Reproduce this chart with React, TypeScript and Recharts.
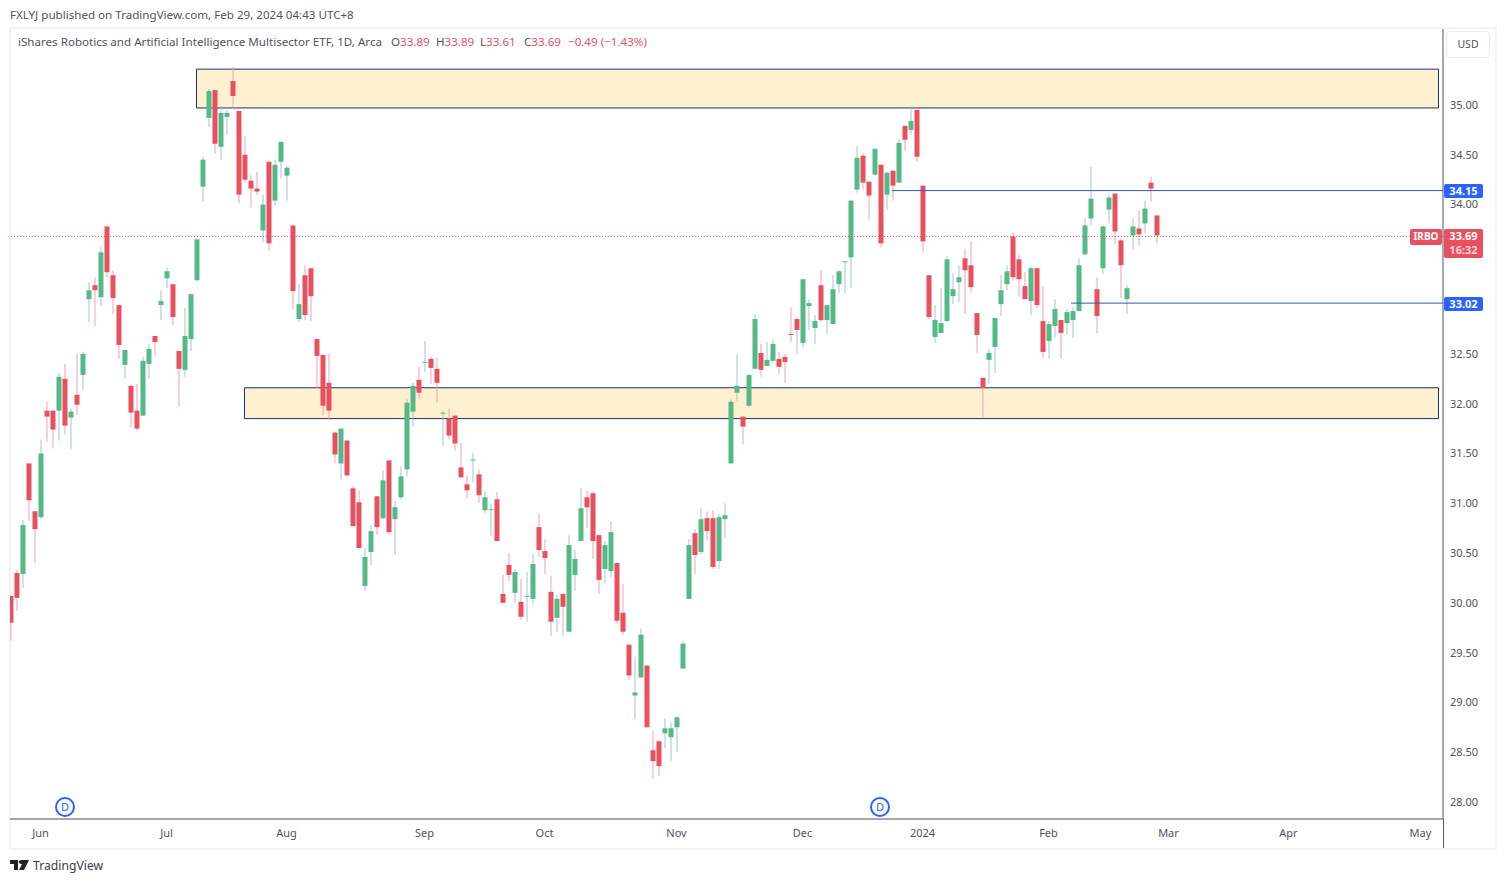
import { Bar, ComposedChart, ReferenceArea, ReferenceLine, XAxis, YAxis } from "recharts";

const opens = [
  30.07, 30.30, 30.29, 31.40, 30.92, 30.86, 31.93, 31.93, 31.93, 32.25,
  31.86, 32.09, 32.29, 33.05, 33.19, 33.07, 33.78, 33.29, 32.99, 32.39,
  32.18, 31.93, 31.88, 32.40, 32.68, 32.99, 33.26, 33.20, 32.53, 32.34,
  32.65, 33.24, 34.18, 34.87, 35.15, 34.58, 34.88, 35.24, 34.94, 34.50,
  34.24, 34.16, 33.74, 34.43, 34.04, 34.43, 34.29, 33.79, 32.85, 33.29,
  33.36, 32.65, 32.49, 32.21, 31.71, 31.40, 31.63, 31.15, 31.01, 30.17,
  30.51, 31.07, 30.85, 31.43, 30.84, 31.06, 31.34, 31.92, 32.24, 32.41,
  32.45, 32.35, 31.90, 31.85, 31.88, 31.36, 31.19, 31.43, 31.29, 30.93,
  30.93, 31.04, 30.09, 30.38, 30.10, 30.01, 30.06, 30.04, 30.76, 30.52,
  30.11, 29.85, 30.09, 29.71, 30.28, 30.62, 31.06, 31.10, 30.68, 30.34,
  30.32, 30.40, 29.90, 29.58, 29.07, 29.25, 29.37, 28.52, 28.61, 28.69,
  28.65, 28.75, 29.34, 30.04, 30.70, 30.51, 30.85, 30.85, 30.42, 30.84,
  31.40, 32.11, 31.87, 31.98, 32.35, 32.51, 32.38, 32.43, 32.45, 32.47,
  32.70, 32.85, 32.61, 32.98, 32.76, 33.19, 32.84, 32.80, 33.20, 33.42,
  33.47, 34.15, 34.49, 34.23, 34.30, 34.40, 34.10, 34.34, 34.22, 34.79,
  34.75, 34.95, 34.19, 33.29, 32.67, 32.71, 32.83, 33.08, 33.22, 33.46,
  33.39, 32.91, 32.26, 32.44, 32.57, 33.00, 33.20, 33.68, 33.45, 33.18,
  33.03, 33.36, 32.83, 32.63, 32.78, 32.84, 32.81, 32.84, 32.93, 33.50,
  33.86, 33.15, 33.36, 33.95, 34.11, 33.64, 33.05, 33.69, 33.76, 33.81,
  34.22, 33.89,
];

const highs = [
  30.07, 30.33, 30.83, 31.40, 30.92, 31.64, 32.02, 31.93, 32.31, 32.40,
  31.95, 32.50, 32.52, 33.22, 33.27, 33.58, 33.78, 33.34, 32.99, 32.54,
  32.18, 32.20, 32.47, 32.60, 32.68, 33.14, 33.37, 33.20, 32.53, 32.96,
  33.10, 33.65, 34.48, 35.16, 35.15, 34.99, 34.95, 35.38, 34.94, 34.69,
  34.30, 34.33, 34.10, 34.43, 34.45, 34.63, 34.39, 33.79, 33.20, 33.39,
  33.36, 32.65, 32.49, 32.50, 31.72, 31.75, 31.63, 31.17, 31.13, 30.55,
  30.78, 31.07, 31.33, 31.43, 31.02, 31.37, 32.05, 32.21, 32.37, 32.63,
  32.47, 32.46, 31.93, 31.95, 31.88, 31.61, 31.28, 31.51, 31.34, 31.12,
  30.99, 31.11, 30.28, 30.50, 30.34, 30.24, 30.31, 30.49, 30.90, 30.64,
  30.27, 30.08, 30.09, 30.68, 30.53, 31.15, 31.13, 31.12, 30.68, 30.62,
  30.82, 30.40, 30.19, 29.58, 29.46, 29.74, 29.37, 28.72, 28.62, 28.84,
  28.80, 28.86, 29.62, 30.64, 30.74, 30.95, 30.92, 30.93, 30.89, 31.00,
  32.05, 32.50, 31.87, 32.29, 32.90, 32.60, 32.62, 32.64, 32.52, 32.50,
  32.97, 32.87, 33.25, 33.05, 32.89, 33.34, 32.99, 33.29, 33.34, 33.43,
  34.04, 34.59, 34.52, 34.23, 34.56, 34.40, 34.32, 34.34, 34.66, 34.79,
  34.97, 34.95, 34.19, 33.29, 32.99, 33.16, 33.48, 33.31, 33.39, 33.55,
  33.63, 32.91, 32.26, 32.55, 32.86, 33.29, 33.39, 33.72, 33.50, 33.32,
  33.38, 33.36, 33.18, 32.83, 33.05, 32.84, 32.95, 32.97, 33.46, 33.86,
  34.38, 33.27, 33.79, 34.10, 34.11, 33.66, 33.19, 33.86, 33.94, 34.04,
  34.28, 33.89,
];

const lows = [
  29.62, 29.92, 30.15, 30.82, 30.40, 30.84, 31.62, 31.55, 31.63, 31.69,
  31.54, 31.89, 32.14, 32.82, 32.78, 32.98, 33.27, 32.90, 32.45, 32.25,
  31.76, 31.73, 31.88, 32.25, 32.48, 32.84, 33.16, 32.79, 31.97, 32.27,
  32.53, 33.23, 34.03, 34.78, 34.51, 34.45, 34.70, 34.97, 34.01, 34.22,
  33.97, 34.10, 33.62, 33.53, 33.99, 34.26, 34.04, 32.95, 32.82, 32.84,
  32.83, 32.15, 31.89, 31.84, 31.40, 31.24, 31.27, 30.77, 30.55, 30.12,
  30.38, 30.68, 30.84, 30.69, 30.48, 31.04, 31.27, 31.77, 32.05, 32.32,
  32.20, 32.01, 31.57, 31.64, 31.53, 31.26, 31.05, 31.21, 31.00, 30.90,
  30.67, 30.62, 30.00, 30.22, 30.00, 29.83, 29.81, 29.99, 30.46, 30.29,
  29.67, 29.71, 29.67, 29.71, 30.12, 30.62, 30.75, 30.44, 30.09, 30.20,
  30.26, 29.79, 29.68, 29.22, 28.83, 29.25, 28.75, 28.23, 28.26, 28.54,
  28.41, 28.50, 29.34, 30.04, 30.29, 30.49, 30.63, 30.34, 30.34, 30.65,
  31.40, 32.03, 31.59, 31.96, 32.35, 32.27, 32.38, 32.41, 32.30, 32.21,
  32.62, 32.50, 32.56, 32.74, 32.60, 32.82, 32.70, 32.80, 33.11, 33.11,
  33.16, 34.12, 34.15, 33.85, 34.29, 33.57, 33.95, 34.04, 34.22, 34.54,
  34.70, 34.43, 33.52, 32.85, 32.61, 32.71, 32.82, 33.00, 33.02, 32.90,
  33.12, 32.51, 31.86, 32.20, 32.31, 32.88, 33.14, 33.23, 33.08, 33.05,
  32.89, 32.96, 32.46, 32.45, 32.66, 32.45, 32.69, 32.66, 32.93, 33.49,
  33.79, 32.71, 33.30, 33.81, 33.60, 33.06, 32.90, 33.55, 33.59, 33.71,
  34.03, 33.61,
];

const closes = [
  29.80, 30.05, 30.78, 31.03, 30.74, 31.50, 31.87, 31.74, 32.27, 31.78,
  31.92, 31.99, 32.50, 33.14, 33.14, 33.52, 33.32, 33.06, 32.59, 32.54,
  31.91, 31.75, 32.43, 32.55, 32.62, 33.03, 33.33, 32.87, 32.35, 32.68,
  33.10, 33.65, 34.45, 35.14, 34.61, 34.92, 34.92, 35.09, 34.10, 34.25,
  34.16, 34.13, 34.00, 33.61, 34.40, 34.63, 34.37, 33.13, 33.00, 32.89,
  33.08, 32.48, 31.98, 31.93, 31.49, 31.75, 31.28, 30.77, 30.55, 30.46,
  30.72, 30.76, 31.23, 30.71, 30.96, 31.27, 32.01, 32.18, 32.11, 32.42,
  32.36, 32.21, 31.91, 31.68, 31.60, 31.26, 31.13, 31.44, 31.08, 31.06,
  30.94, 30.62, 30.00, 30.28, 30.31, 29.86, 30.07, 30.39, 30.53, 30.45,
  29.81, 30.04, 29.96, 30.58, 30.44, 30.95, 30.96, 30.62, 30.23, 30.58,
  30.71, 29.82, 29.71, 29.27, 29.10, 29.68, 28.75, 28.41, 28.36, 28.74,
  28.74, 28.85, 29.59, 30.58, 30.48, 30.84, 30.72, 30.36, 30.86, 30.88,
  32.02, 32.18, 31.77, 32.29, 32.85, 32.34, 32.44, 32.60, 32.37, 32.42,
  32.69, 32.74, 33.25, 33.01, 32.83, 32.84, 32.99, 33.15, 33.33, 33.43,
  34.04, 34.47, 34.22, 34.09, 34.56, 33.61, 34.32, 34.19, 34.62, 34.65,
  34.84, 34.48, 33.63, 32.87, 32.84, 32.81, 33.45, 33.15, 33.27, 33.34,
  33.17, 32.69, 32.16, 32.51, 32.86, 33.14, 33.33, 33.27, 33.25, 33.05,
  33.36, 32.99, 32.52, 32.80, 32.95, 32.71, 32.92, 32.93, 33.39, 33.79,
  34.06, 32.88, 33.78, 34.07, 33.73, 33.39, 33.16, 33.78, 33.70, 33.96,
  34.16, 33.69,
];

const monthTicks = [5, 26, 46, 69, 89, 111, 132, 152, 173, 193, 213, 235];
const monthLabels = ["Jun", "Jul", "Aug", "Sep", "Oct", "Nov", "Dec", "2024", "Feb", "Mar", "Apr", "May"];
// 33.00 and 33.50 sit under the price tags in the reference
const priceTicks = [28, 28.5, 29, 29.5, 30, 30.5, 31, 31.5, 32, 32.5, 34, 34.5, 35];

const candles = opens.map((open, i) => ({
  i,
  open,
  high: highs[i],
  low: lows[i],
  close: closes[i],
}));

const font = "'Noto Sans', sans-serif";
const UP = "#53b987";
const DOWN = "#e9505f";
const UP_WICK = "#a3c8c4";
const DOWN_WICK = "#f0a3ad";
const NAVY = "#1c2f6e";
const BLUE = "#2962ff";

function Candle(props: any) {
  const { x, y, width, height, payload } = props;
  const { open, high, low, close } = payload;
  const up = close >= open;
  const perPrice = height / (high - low);
  const top = y + (high - Math.max(open, close)) * perPrice;
  const bodyH = Math.max(1, Math.abs(open - close) * perPrice);
  const cx = x + width / 2;
  return (
    <g>
      <rect x={cx - 0.5} y={y} width={1} height={height} fill={up ? UP_WICK : DOWN_WICK} />
      <rect x={cx - 2.5} y={top} width={5} height={bodyH} fill={up ? UP : DOWN} />
    </g>
  );
}

function Abs({ x, y, color = "#50535e", size = 11.6, children }: any) {
  return (
    <div
      style={{
        position: "absolute",
        left: x,
        top: y,
        color,
        fontSize: size,
        lineHeight: "16px",
        whiteSpace: "nowrap",
      }}
    >
      {children}
    </div>
  );
}

function Tag({ x, y, w, h, color, size = 11, children }: any) {
  return (
    <div
      style={{
        position: "absolute",
        left: x,
        top: y,
        width: w,
        height: h,
        background: color,
        borderRadius: 2,
        color: "#fff",
        fontSize: size,
        fontWeight: 700,
        textAlign: "center",
        lineHeight: "14px",
      }}
    >
      {children}
    </div>
  );
}

function Dividend({ x }: { x: number }) {
  return (
    <div
      style={{
        position: "absolute",
        left: x - 10,
        top: 797,
        width: 16,
        height: 16,
        border: `2px solid ${BLUE}`,
        borderRadius: "50%",
        color: BLUE,
        fontSize: 11,
        lineHeight: "16px",
        textAlign: "center",
        background: "#fff",
      }}
    >
      D
    </div>
  );
}

export default function App() {
  return (
    <div style={{ position: "absolute", left: 0, top: 0, width: 1505, height: 883, background: "#fff", fontFamily: font, overflow: "hidden" }}>
      <div style={{ position: "absolute", left: 9, top: 27, width: 1484, height: 819, border: "2px solid #f0f3fa", boxSizing: "content-box" }} />

      <div style={{ position: "absolute", left: 0, top: 0 }}>
        <ComposedChart
          width={1505}
          height={883}
          data={candles}
          margin={{ top: 29, right: 0, bottom: 0, left: 10 }}
        >
          <XAxis
            dataKey="i"
            type="number"
            domain={[-0.08, 238.75]}
            allowDataOverflow
            ticks={monthTicks}
            tickFormatter={(v: number) => monthLabels[monthTicks.indexOf(v)]}
            interval={0}
            height={64}
            stroke="#50535e"
            tickLine={false}
            tickMargin={4}
            tick={{ fontSize: 11, fill: "#50535e", fontFamily: font }}
          />
          <YAxis
            orientation="right"
            type="number"
            domain={[27.829, 35.763]}
            allowDataOverflow
            ticks={priceTicks}
            tickFormatter={(v: number) => v.toFixed(2)}
            interval={0}
            width={62}
            stroke="#50535e"
            tickLine={false}
            tickMargin={1}
            tick={{ fontSize: 11, fill: "#50535e", fontFamily: font }}
          />
          <ReferenceArea x1={31} x2={238} y1={34.97} y2={35.36} fill="#fff0cf" fillOpacity={1} stroke={NAVY} strokeWidth={1} ifOverflow="visible" />
          <ReferenceArea x1={39} x2={238} y1={31.85} y2={32.16} fill="#fff0cf" fillOpacity={1} stroke={NAVY} strokeWidth={1} ifOverflow="visible" />
          <ReferenceLine y={33.68} stroke={DOWN} strokeDasharray="1 2" />
          <ReferenceLine segment={[{ x: 146.9, y: 34.14 }, { x: 238.75, y: 34.14 }]} stroke="#2f55b5" ifOverflow="visible" />
          <ReferenceLine segment={[{ x: 176.75, y: 33.01 }, { x: 238.75, y: 33.01 }]} stroke="#2f55b5" ifOverflow="visible" />
          <Bar dataKey={(d: any) => [d.low, d.high]} barSize={5} shape={<Candle />} isAnimationActive={false} />
        </ComposedChart>
      </div>

      <div style={{ position: "absolute", left: 1443, top: 819, width: 1, height: 29, background: "#50535e" }} />

      <Abs x={10} y={7}>FXLYJ published on TradingView.com, Feb 29, 2024 04:43 UTC+8</Abs>
      <Abs x={18} y={34}>iShares Robotics and Artificial Intelligence Multisector ETF, 1D, Arca</Abs>
      <Abs x={391} y={34}>O<span style={{ color: DOWN }}>33.89</span></Abs>
      <Abs x={436} y={34}>H<span style={{ color: DOWN }}>33.89</span></Abs>
      <Abs x={480} y={34}>L<span style={{ color: DOWN }}>33.61</span></Abs>
      <Abs x={524} y={34}>C<span style={{ color: DOWN }}>33.69</span></Abs>
      <Abs x={568} y={34} color={DOWN}>−0.49 (−1.43%)</Abs>

      <div style={{ position: "absolute", left: 1446, top: 31, width: 42, height: 25, border: "1px solid #e8eaf0", borderRadius: 4, color: "#50535e", fontSize: 10.5, lineHeight: "25px", textAlign: "center" }}>USD</div>

      <Tag x={1444} y={184} w={39} h={14} color={BLUE}>34.15</Tag>
      <Tag x={1444} y={297} w={39} h={14} color={BLUE}>33.02</Tag>
      <Tag x={1410} y={229} w={32} h={16} size={10} color={DOWN}>IRBO</Tag>
      <Tag x={1444} y={229} w={39} h={29} color={DOWN}>33.69<br /><span style={{ color: "rgba(255,255,255,0.75)" }}>16:32</span></Tag>

      <Dividend x={65} />
      <Dividend x={880} />

      <svg style={{ position: "absolute", left: 10, top: 860 }} width={20} height={11} viewBox="0 0 20 11">
        <path d="M0 0H8V10H4V4H0Z M11 0 H19 L14 10 H9 L12 4 H11Z" fill="#1e222d" />
        <circle cx={10.5} cy={2} r={1.8} fill="#1e222d" />
      </svg>
      <Abs x={33} y={858} color="#3c4049" size={12.2}>TradingView</Abs>
    </div>
  );
}
